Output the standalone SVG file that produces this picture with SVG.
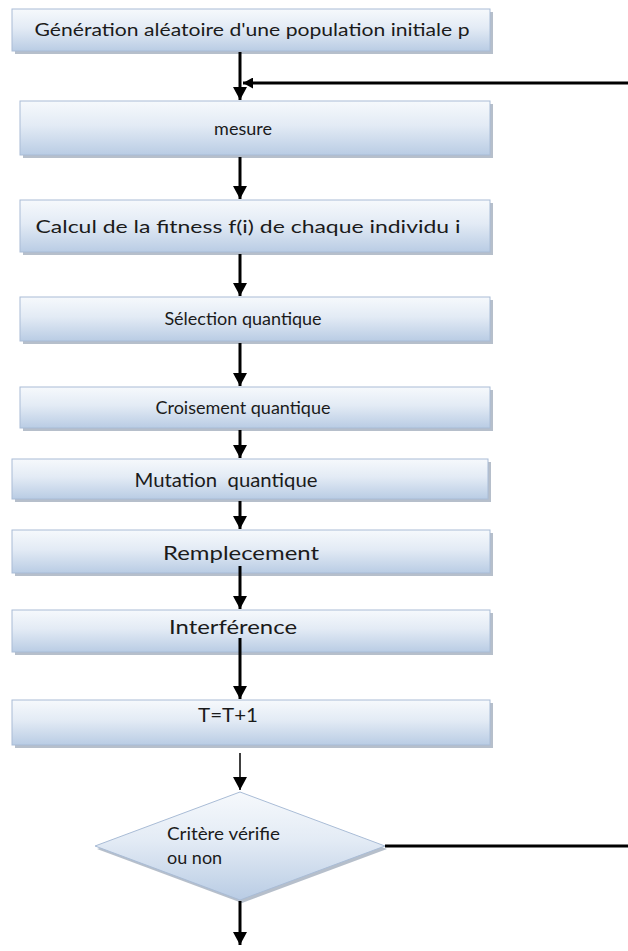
<svg xmlns="http://www.w3.org/2000/svg" width="628" height="951" viewBox="0 0 628 951">
  <style>
    .box { fill: url(#boxFill); stroke: #a9bcd6; stroke-width: 1; }
    .shadow { fill: #9ea9b9; opacity: 0.75; }
    .label { font-family: Lato, "Open Sans", sans-serif; font-size: 18px; fill: #1b1b1b; white-space: pre; }
    .big { font-size: 20px; }
    .mid { font-size: 19px; }
    .bold { stroke: #000; stroke-width: 3; fill: none; }
    .thin { stroke: #000; stroke-width: 1.5; fill: none; }
  </style>
  <defs>
    <linearGradient id="boxFill" x1="0" y1="0" x2="0" y2="1">
      <stop offset="0" stop-color="#f6f9fc"/>
      <stop offset="0.45" stop-color="#e3ebf5"/>
      <stop offset="1" stop-color="#b9cce4"/>
    </linearGradient>
    <marker id="headDown" markerUnits="userSpaceOnUse" markerWidth="14" markerHeight="14" refX="13" refY="7" orient="auto">
      <path d="M0,0 L13,7 L0,14 z" fill="#000"/>
    </marker>
    <marker id="headLeft" markerUnits="userSpaceOnUse" markerWidth="11" markerHeight="11" refX="10" refY="5.5" orient="auto">
      <path d="M0,0 L10,5.5 L0,11 z" fill="#000"/>
    </marker>
  </defs>

  <!-- process boxes -->
  <g id="node-generation">
    <rect class="shadow" x="15" y="12" width="478" height="42"/>
    <rect class="box" x="12" y="9" width="478" height="42"/>
    <text class="label" x="252" y="36" text-anchor="middle" textLength="435" lengthAdjust="spacingAndGlyphs">Génération aléatoire d'une population initiale p</text>
  </g>
  <g id="node-mesure">
    <rect class="shadow" x="23" y="104" width="470" height="54"/>
    <rect class="box" x="20" y="101" width="470" height="54"/>
    <text class="label" x="243" y="135" text-anchor="middle">mesure</text>
  </g>
  <g id="node-fitness">
    <rect class="shadow" x="23" y="203" width="470" height="52"/>
    <rect class="box" x="20" y="200" width="470" height="52"/>
    <text class="label" x="248" y="233" text-anchor="middle" textLength="425" lengthAdjust="spacingAndGlyphs">Calcul de la fitness f(i) de chaque individu i</text>
  </g>
  <g id="node-selection">
    <rect class="shadow" x="23" y="300" width="470" height="44"/>
    <rect class="box" x="20" y="297" width="470" height="44"/>
    <text class="label" x="243" y="325" text-anchor="middle">Sélection quantique</text>
  </g>
  <g id="node-croisement">
    <rect class="shadow" x="23" y="390" width="470" height="41"/>
    <rect class="box" x="20" y="387" width="470" height="41"/>
    <text class="label" x="243" y="414" text-anchor="middle">Croisement quantique</text>
  </g>
  <g id="node-mutation">
    <rect class="shadow" x="15" y="462" width="476" height="40"/>
    <rect class="box" x="12" y="459" width="476" height="40"/>
    <text class="label mid" x="226" y="487" text-anchor="middle" textLength="183" lengthAdjust="spacingAndGlyphs">Mutation  quantique</text>
  </g>
  <g id="node-remplacement">
    <rect class="shadow" x="15" y="533" width="478" height="43"/>
    <rect class="box" x="12" y="530" width="478" height="43"/>
    <text class="label big" x="241" y="560" text-anchor="middle" textLength="156" lengthAdjust="spacingAndGlyphs">Remplecement</text>
  </g>
  <g id="node-interference">
    <rect class="shadow" x="15" y="613" width="478" height="42"/>
    <rect class="box" x="12" y="610" width="478" height="42"/>
    <text class="label big" x="233" y="634" text-anchor="middle" textLength="128" lengthAdjust="spacingAndGlyphs">Interférence</text>
  </g>
  <g id="node-increment">
    <rect class="shadow" x="15" y="703" width="478" height="45"/>
    <rect class="box" x="12" y="700" width="478" height="45"/>
    <text class="label mid" x="228" y="722" text-anchor="middle" textLength="60" lengthAdjust="spacingAndGlyphs">T=T+1</text>
  </g>

  <!-- decision -->
  <g id="node-critere">
    <polygon class="shadow" points="242,795 387,849 242,903 97,849"/>
    <polygon class="box" points="240,792 385,846 240,900 95,846"/>
    <text class="label" x="167" y="840" textLength="113" lengthAdjust="spacingAndGlyphs">Critère vérifie</text>
    <text class="label" x="167" y="864">ou non</text>
  </g>

  <!-- connectors -->
  <g id="connectors">
    <line class="bold" x1="240" y1="52" x2="240" y2="100" marker-end="url(#headDown)"/>
    <line class="bold" x1="628" y1="83" x2="243" y2="83" marker-end="url(#headLeft)"/>
    <line class="bold" x1="240" y1="157" x2="240" y2="199" marker-end="url(#headDown)"/>
    <line class="bold" x1="240" y1="254" x2="240" y2="296" marker-end="url(#headDown)"/>
    <line class="bold" x1="240" y1="343" x2="240" y2="386" marker-end="url(#headDown)"/>
    <line class="bold" x1="240" y1="430" x2="240" y2="458" marker-end="url(#headDown)"/>
    <line class="bold" x1="240" y1="501" x2="240" y2="529" marker-end="url(#headDown)"/>
    <line class="bold" x1="240" y1="566" x2="240" y2="609" marker-end="url(#headDown)"/>
    <line class="bold" x1="240" y1="638" x2="240" y2="699" marker-end="url(#headDown)"/>
    <line class="thin" x1="240" y1="753" x2="240" y2="790" marker-end="url(#headDown)"/>
    <line class="bold" x1="385" y1="846" x2="628" y2="846"/>
    <line class="bold" x1="240" y1="901" x2="240" y2="945" marker-end="url(#headDown)"/>
  </g>
</svg>
